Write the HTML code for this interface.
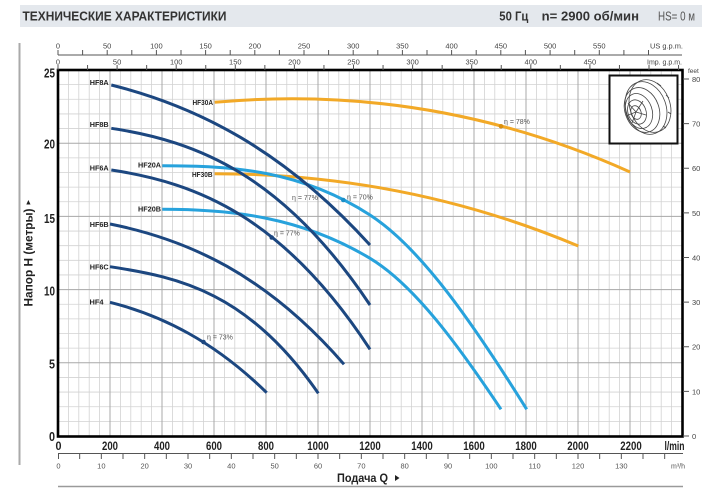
<!DOCTYPE html>
<html><head><meta charset="utf-8"><style>
html,body{margin:0;padding:0;background:#fff;}
svg{display:block;font-family:"Liberation Sans",Arial,sans-serif;}
</style></head><body>
<svg width="717" height="500" viewBox="0 0 717 500" xmlns="http://www.w3.org/2000/svg">
<rect width="717" height="500" fill="#fff"/>
<!-- header -->
<rect x="20" y="5" width="682" height="22" fill="#e4e8ed"/>
<text x="22.5" y="20.5" font-size="13" font-weight="bold" fill="#333" textLength="204" lengthAdjust="spacingAndGlyphs">ТЕХНИЧЕСКИЕ ХАРАКТЕРИСТИКИ</text>
<text x="499.3" y="20.5" font-size="13" font-weight="bold" fill="#333" textLength="29" lengthAdjust="spacingAndGlyphs">50 Гц</text>
<text x="541.7" y="20.5" font-size="13" font-weight="bold" fill="#333" textLength="97.3" lengthAdjust="spacingAndGlyphs">n= 2900 об/мин</text>
<text x="658" y="20.5" font-size="13" fill="#555" textLength="37" lengthAdjust="spacingAndGlyphs">HS= 0 м</text>
<!-- left vertical line -->
<line x1="19.5" y1="43" x2="19.5" y2="465" stroke="#aaa" stroke-width="2"/>
<!-- grid minor -->
<path fill="none" stroke="#d2d2d2" stroke-width="0.8" d="M68.4 70V436M78.8 70V436M89.2 70V436M99.6 70V436M120.4 70V436M130.8 70V436M141.2 70V436M151.6 70V436M172.4 70V436M182.8 70V436M193.2 70V436M203.6 70V436M224.4 70V436M234.8 70V436M245.2 70V436M255.6 70V436M276.4 70V436M286.8 70V436M297.2 70V436M307.6 70V436M328.4 70V436M338.8 70V436M349.2 70V436M359.6 70V436M380.4 70V436M390.8 70V436M401.2 70V436M411.6 70V436M432.4 70V436M442.8 70V436M453.2 70V436M463.6 70V436M484.4 70V436M494.8 70V436M505.2 70V436M515.6 70V436M536.4 70V436M546.8 70V436M557.2 70V436M567.6 70V436M588.4 70V436M598.8 70V436M609.2 70V436M619.6 70V436M640.4 70V436M650.8 70V436M661.2 70V436M671.6 70V436
M58 421.36H682M58 406.72H682M58 392.08H682M58 377.44H682M58 348.16H682M58 333.52H682M58 318.88H682M58 304.24H682M58 274.96H682M58 260.32H682M58 245.68H682M58 231.04H682M58 201.76H682M58 187.12H682M58 172.48H682M58 157.84H682M58 128.56H682M58 113.92H682M58 99.28H682M58 84.64H682"/>
<!-- grid major -->
<path fill="none" stroke="#a8a8a8" stroke-width="1" d="M110 70V436M162 70V436M214 70V436M266 70V436M318 70V436M370 70V436M422 70V436M474 70V436M526 70V436M578 70V436M630 70V436M58 362.8H682M58 289.6H682M58 216.4H682M58 143.2H682"/>
<!-- inset -->
<rect x="609.5" y="75.5" width="68" height="68" fill="#fff" stroke="#111" stroke-width="2"/>
<g fill="none" stroke="#444" stroke-width="0.8">
<ellipse cx="650" cy="106" rx="20" ry="27" transform="rotate(-20 650 106)"/>
<ellipse cx="646" cy="108" rx="20" ry="27" transform="rotate(-20 646 108)"/>
<ellipse cx="642" cy="110" rx="17" ry="23" transform="rotate(-20 642 110)"/>
<ellipse cx="639" cy="111" rx="13" ry="18" transform="rotate(-20 639 111)"/>
<ellipse cx="637" cy="112" rx="9" ry="12.5" transform="rotate(-20 637 112)"/>
<ellipse cx="636" cy="112.5" rx="5" ry="7" transform="rotate(-20 636 112.5)"/>
<path d="M636 112 L628 103 M636 112 L643 101 M636 112 L646 115 M636 112 L632 123 M636 112 L626 116"/>
<path d="M657 83 L661 86 M666 95 L669 98 M668 112 L671 114 M663 126 L666 128"/>
</g>
<!-- plot border -->
<rect x="58" y="70" width="624.5" height="366.5" fill="none" stroke="#000" stroke-width="2.6"/>
<!-- curves -->
<g fill="none" stroke-width="3">
<path stroke="#f2a927" d="M214.7 102.3C353.1 89.8 491.6 109.7 630 172"/>
<path stroke="#f2a927" d="M214.7 173.7C335.9 173.7 457.1 195.1 578.3 246"/>
<path stroke="#27a2dc" d="M162.3 165.7C231.5 165.7 300.8 170 370 215C422.2 248.9 474.5 325.8 526.7 409.3"/>
<path stroke="#27a2dc" d="M162.3 209.3C231.5 209.3 300.8 216.8 370 258.3C413.7 284.5 457.3 343.8 501 409.3"/>
<path stroke="#1c4780" d="M111.3 85C197.5 106.6 283.7 150 370 245"/>
<path stroke="#1c4780" d="M111.3 128.3C197.5 141.2 283.8 175.7 370 305"/>
<path stroke="#1c4780" d="M111.3 170C197.5 182.9 283.8 217.4 370 349.3"/>
<path stroke="#1c4780" d="M110 224C188 239.6 266 274.6 344 364.3"/>
<path stroke="#1c4780" d="M110 266.7C179.4 277.1 248.9 292.7 318.3 393.3"/>
<path stroke="#1c4780" d="M110 302.3C162.2 315.4 214.5 341.6 266.7 392.7"/>
</g>
<!-- markers -->
<circle cx="203.5" cy="342" r="2.3" fill="#1c4780"/>
<circle cx="271.7" cy="237.5" r="2.3" fill="#1c4780"/>
<circle cx="343.3" cy="200" r="2.3" fill="#1a8fc8"/>
<circle cx="501" cy="126.3" r="2.3" fill="#d98f10"/>
<g font-size="7" fill="#555">
<text x="207" y="339.5">η = 73%</text>
<text x="274" y="235.5">η = 77%</text>
<text x="292" y="200">η = 77%</text>
<text x="347" y="199.5">η = 70%</text>
<text x="504" y="124">η = 78%</text>
</g>
<!-- curve labels -->
<g font-size="7.5" font-weight="bold" fill="#222" text-anchor="end">
<text x="108.7" y="85" textLength="19" lengthAdjust="spacingAndGlyphs">HF8A</text>
<text x="108.7" y="127" textLength="19" lengthAdjust="spacingAndGlyphs">HF8B</text>
<text x="108.7" y="170.5" textLength="19" lengthAdjust="spacingAndGlyphs">HF6A</text>
<text x="108.7" y="227" textLength="19" lengthAdjust="spacingAndGlyphs">HF6B</text>
<text x="108.7" y="269.5" textLength="19" lengthAdjust="spacingAndGlyphs">HF6C</text>
<text x="103.5" y="304.5" textLength="14" lengthAdjust="spacingAndGlyphs">HF4</text>
<text x="161" y="167.5" textLength="23" lengthAdjust="spacingAndGlyphs">HF20A</text>
<text x="161" y="211.5" textLength="23" lengthAdjust="spacingAndGlyphs">HF20B</text>
<text x="213" y="104.8" textLength="20.5" lengthAdjust="spacingAndGlyphs">HF30A</text>
<text x="212.5" y="176.8" textLength="20.5" lengthAdjust="spacingAndGlyphs">HF30B</text>
</g>
<!-- top axes -->
<line x1="58" y1="55" x2="682" y2="55" stroke="#555" stroke-width="1"/>
<path fill="none" stroke="#555" stroke-width="1" d="M58 50V55M82.6 50V55M107.2 50V55M131.8 50V55M156.4 50V55M181 50V55M205.6 50V55M230.2 50V55M254.8 50V55M279.4 50V55M304 50V55M328.6 50V55M353.2 50V55M377.8 50V55M402.4 50V55M427 50V55M451.6 50V55M476.2 50V55M500.8 50V55M525.4 50V55M550.1 50V55M574.7 50V55M599.3 50V55M623.9 50V55M648.5 50V55
M58 65V70M87.55 65V70M117.1 65V70M146.65 65V70M176.2 65V70M205.75 65V70M235.3 65V70M264.85 65V70M294.4 65V70M323.95 65V70M353.5 65V70M383.05 65V70M412.6 65V70M442.15 65V70M471.7 65V70M501.25 65V70M530.8 65V70M560.35 65V70M589.9 65V70M619.45 65V70M649 65V70M678.55 65V70"/>
<g font-size="7.5" fill="#444" text-anchor="middle">
<text x="58" y="48.5">0</text><text x="107.2" y="48.5">50</text><text x="156.4" y="48.5">100</text><text x="205.6" y="48.5">150</text><text x="254.8" y="48.5">200</text><text x="304" y="48.5">250</text><text x="353.2" y="48.5">300</text><text x="402.4" y="48.5">350</text><text x="451.6" y="48.5">400</text><text x="500.8" y="48.5">450</text><text x="550.1" y="48.5">500</text><text x="599.3" y="48.5">550</text>
<text x="58" y="64.5">0</text><text x="117.1" y="64.5">50</text><text x="176.2" y="64.5">100</text><text x="235.3" y="64.5">150</text><text x="294.4" y="64.5">200</text><text x="353.5" y="64.5">250</text><text x="412.6" y="64.5">300</text><text x="471.7" y="64.5">350</text><text x="530.8" y="64.5">400</text><text x="589.9" y="64.5">450</text>
</g>
<text x="650" y="48.5" font-size="7" fill="#444" textLength="33" lengthAdjust="spacingAndGlyphs">US g.p.m.</text>
<text x="647" y="64.5" font-size="7" fill="#444" textLength="35" lengthAdjust="spacingAndGlyphs">Imp. g.p.m.</text>
<!-- right feet axis -->
<path fill="none" stroke="#555" stroke-width="1" d="M683 436H689M683 391.4H689M683 346.8H689M683 302.1H689M683 257.5H689M683 212.9H689M683 168.3H689M683 123.6H689M683 79H689"/>
<g font-size="7.5" fill="#444">
<text x="688" y="73" font-size="6.5">feet</text>
<text x="692" y="82">80</text><text x="692" y="126.5">70</text><text x="692" y="171.2">60</text><text x="692" y="215.8">50</text><text x="692" y="260.4">40</text><text x="692" y="305">30</text><text x="692" y="349.7">20</text><text x="692" y="394.3">10</text><text x="692" y="439">0</text>
</g>
<!-- left axis labels -->
<g font-size="13" font-weight="bold" fill="#222" text-anchor="end">
<text x="55" y="77.5" textLength="11" lengthAdjust="spacingAndGlyphs">25</text>
<text x="55" y="148.5" textLength="11" lengthAdjust="spacingAndGlyphs">20</text>
<text x="55" y="223" textLength="11" lengthAdjust="spacingAndGlyphs">15</text>
<text x="55" y="295.5" textLength="11" lengthAdjust="spacingAndGlyphs">10</text>
<text x="55" y="368.5" textLength="6" lengthAdjust="spacingAndGlyphs">5</text>
<text x="55" y="441" textLength="6" lengthAdjust="spacingAndGlyphs">0</text>
</g>
<text transform="translate(32.5,257.5) rotate(-90)" text-anchor="middle" font-size="11.5" font-weight="bold" fill="#222" textLength="98" lengthAdjust="spacingAndGlyphs">Напор H (метры)</text>
<polygon points="28.4,200 26.3,204.5 30.5,204.5" fill="#222"/>
<!-- bottom l/min labels -->
<g font-size="12" font-weight="bold" fill="#222" text-anchor="middle">
<text x="58.5" y="450" textLength="6" lengthAdjust="spacingAndGlyphs">0</text>
<text x="110" y="450" textLength="16" lengthAdjust="spacingAndGlyphs">200</text>
<text x="162" y="450" textLength="16" lengthAdjust="spacingAndGlyphs">400</text>
<text x="214" y="450" textLength="16" lengthAdjust="spacingAndGlyphs">600</text>
<text x="266" y="450" textLength="16" lengthAdjust="spacingAndGlyphs">800</text>
<text x="318" y="450" textLength="21.5" lengthAdjust="spacingAndGlyphs">1000</text>
<text x="370" y="450" textLength="21.5" lengthAdjust="spacingAndGlyphs">1200</text>
<text x="422" y="450" textLength="21.5" lengthAdjust="spacingAndGlyphs">1400</text>
<text x="474" y="450" textLength="21.5" lengthAdjust="spacingAndGlyphs">1600</text>
<text x="526" y="450" textLength="21.5" lengthAdjust="spacingAndGlyphs">1800</text>
<text x="578" y="450" textLength="21.5" lengthAdjust="spacingAndGlyphs">2000</text>
<text x="631" y="450" textLength="21.5" lengthAdjust="spacingAndGlyphs">2200</text>
</g>
<text x="664.5" y="450" font-size="12" font-weight="bold" fill="#222" textLength="20" lengthAdjust="spacingAndGlyphs">l/min</text>
<!-- m3/h axis -->
<line x1="58" y1="453.5" x2="683" y2="453.5" stroke="#555" stroke-width="1"/>
<path fill="none" stroke="#555" stroke-width="1" d="M58.5 453.5V459M79.67 453.5V459M101.33 453.5V459M123 453.5V459M144.67 453.5V459M166.33 453.5V459M188 453.5V459M209.67 453.5V459M231.33 453.5V459M253 453.5V459M274.67 453.5V459M296.33 453.5V459M318 453.5V459M339.67 453.5V459M361.33 453.5V459M383 453.5V459M404.67 453.5V459M426.33 453.5V459M448 453.5V459M469.67 453.5V459M491.33 453.5V459M513 453.5V459M534.67 453.5V459M556.33 453.5V459M578 453.5V459M599.67 453.5V459M621.33 453.5V459M643 453.5V459M664.67 453.5V459"/>
<g font-size="7.5" fill="#555" text-anchor="middle">
<text x="58.5" y="468.5">0</text><text x="101.33" y="468.5">10</text><text x="144.67" y="468.5">20</text><text x="188" y="468.5">30</text><text x="231.33" y="468.5">40</text><text x="274.67" y="468.5">50</text><text x="318" y="468.5">60</text><text x="361.33" y="468.5">70</text><text x="404.67" y="468.5">80</text><text x="448" y="468.5">90</text><text x="491.33" y="468.5">100</text><text x="534.67" y="468.5">110</text><text x="578" y="468.5">120</text><text x="621.33" y="468.5">130</text>
</g>
<text x="671" y="468.5" font-size="7" fill="#555">m³/h</text>
<!-- bottom title -->
<text x="337" y="482" font-size="11.5" font-weight="bold" fill="#222" textLength="51" lengthAdjust="spacingAndGlyphs">Подача Q</text>
<polygon points="395,475 395,481 399.5,478" fill="#222"/>
<line x1="58" y1="486.5" x2="683" y2="486.5" stroke="#9a9a9a" stroke-width="1.5"/>
</svg>
</body></html>
